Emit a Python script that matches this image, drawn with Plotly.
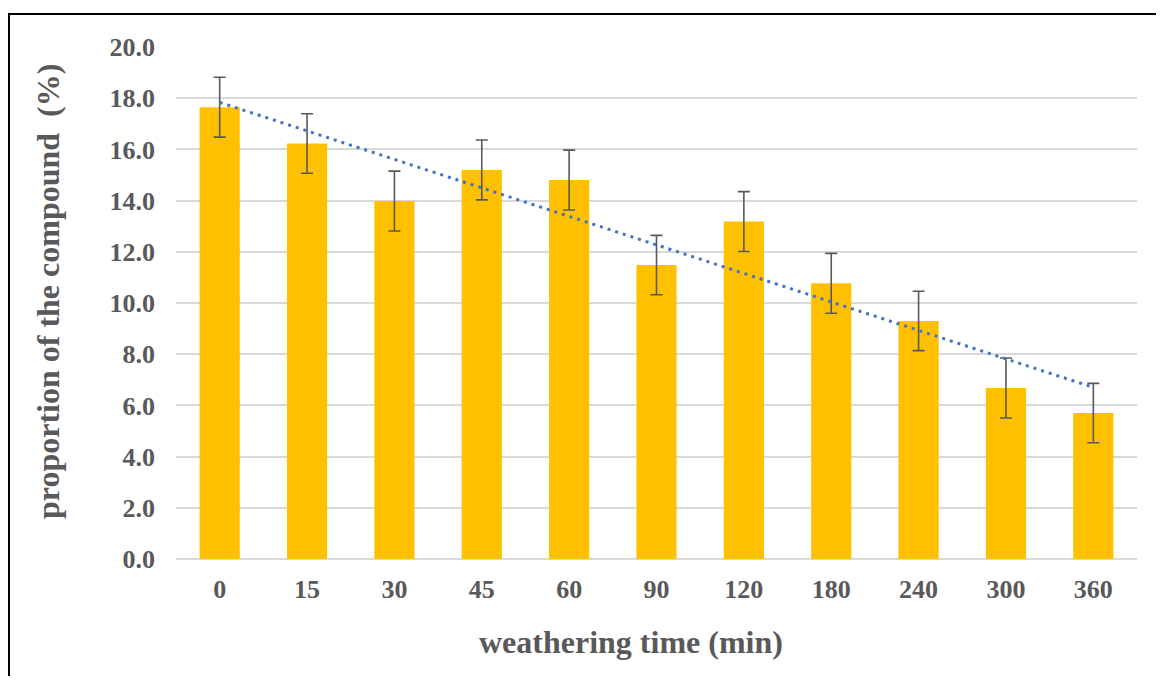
import numpy as np
import plotly.graph_objects as go

categories = ["0", "15", "30", "45", "60", "90", "120", "180", "240", "300", "360"]
values = [17.65, 16.23, 13.98, 15.2, 14.8, 11.48, 13.18, 10.77, 9.3, 6.68, 5.7]
errors = [1.17, 1.16, 1.17, 1.17, 1.17, 1.16, 1.17, 1.17, 1.16, 1.17, 1.16]
y_ticks = [0, 2, 4, 6, 8, 10, 12, 14, 16, 18, 20]

# linear trendline (as in the spreadsheet) fitted to the bar values
idx = np.arange(len(values))
slope, intercept = np.polyfit(idx, values, 1)
trend = (slope * idx + intercept).tolist()

FONT = "Liberation Serif, Times New Roman, serif"
GREY = "#595959"

W, H = 1148, 668
ML, MR, MT, MB = 168, 19, 39, 117
PW, PH = W - ML - MR, H - MT - MB

fig = go.Figure()
fig.add_trace(go.Bar(
    x=categories, y=values,
    marker=dict(color="#FFC000", line=dict(width=0)),
    error_y=dict(type="data", array=errors, visible=True,
                 color=GREY, thickness=1.6, width=6),
    showlegend=False,
))
fig.add_trace(go.Scatter(
    x=categories, y=trend, mode="lines",
    line=dict(color="#4472C4", width=3, dash="3px,5px"),
    showlegend=False, hoverinfo="skip",
))

fig.update_layout(
    width=W, height=H,
    margin=dict(l=ML, r=MR, t=MT, b=MB),
    paper_bgcolor="white", plot_bgcolor="white",
    bargap=0.54,
    font=dict(family=FONT, color=GREY),
)
fig.update_xaxes(
    type="category",
    tickfont=dict(family=FONT, size=26, color=GREY, weight="bold"),
    ticklabelstandoff=12,
    showgrid=False, showline=False, zeroline=False,
)
fig.update_yaxes(
    range=[0, 20], tickvals=y_ticks, tickformat=".1f",
    tickfont=dict(family=FONT, size=26, color=GREY, weight="bold"),
    ticklabelstandoff=20,
    showgrid=True, gridcolor="#D9D9D9", gridwidth=1.6,
    zeroline=True, zerolinecolor="#D9D9D9", zerolinewidth=1.6,
    showline=False,
)

# axis titles
fig.add_annotation(text="weathering time (min)", xref="paper", yref="paper",
                   x=(623 - ML) / PW, y=-83 / PH, xanchor="center", yanchor="middle",
                   showarrow=False,
                   font=dict(family=FONT, size=32, color=GREY, weight="bold"))
fig.add_annotation(text="proportion of the compound\u00a0\u00a0(%)", xref="paper", yref="paper",
                   x=(40 - ML) / PW, y=(PH - 245) / PH, xanchor="center", yanchor="middle",
                   textangle=-90, showarrow=False,
                   font=dict(family=FONT, size=32, color=GREY, weight="bold"))

# outer frame around the chart (cut at the right/bottom edge of the picture)
fig.add_shape(type="rect", xref="paper", yref="paper",
              x0=(1 - ML) / PW, x1=1.2,
              y0=-0.5, y1=(H - MB - 6) / PH,
              line=dict(color="black", width=2), layer="below")

fig.write_html("out.html")
